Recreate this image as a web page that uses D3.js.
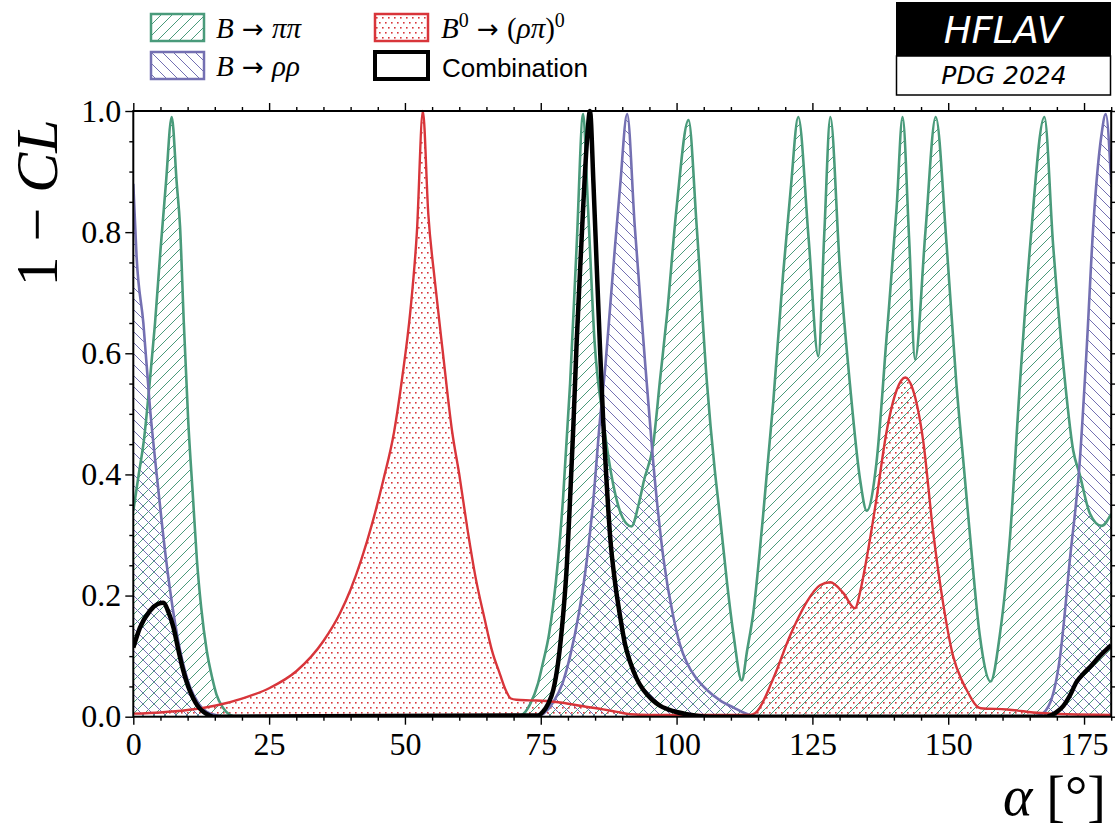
<!DOCTYPE html>
<html><head><meta charset="utf-8">
<script src="https://cdn.jsdelivr.net/npm/d3@7/dist/d3.min.js"></script>
<style>body{margin:0;background:#fff}svg{display:block}</style>
</head><body><svg id="c" width="1115" height="830"></svg>
<script>
// ---- data (alpha in degrees, 1-CL) ----
const pipiAlpha = [0,1,2,3,4,5,6,7.07,8,8.6,9.3,10.1,11,11.7,12.5,13.5,14.5,15.3,16.5,17.8,19,70,71.5,73,74.5,75.4,76.5,77.3,78.2,79.1,80.4,81.6,82.8,83.7,84.9,86.5,88.3,90.1,91.7,93,94,95.7,97,98.2,100,102.2,103.7,105.6,107,108,109.3,110.5,112,113,114.1,115.9,117.8,119.6,121,122.4,124.3,126.1,127.2,128.3,130,131.9,133.8,135,136.8,138.6,140.5,141.6,142.8,143.9,145.8,147.7,149.7,151.5,152.8,154,155.8,157.8,159.5,161.4,163.2,165.1,167.7,169.3,171.2,173,174.2,176.1,178.2,180];
const pipiCL    = [0.34,0.40,0.46,0.55,0.65,0.77,0.88,0.99,0.88,0.81,0.65,0.49,0.36,0.26,0.18,0.11,0.065,0.037,0.015,0.003,0,0,0.003,0.02,0.055,0.089,0.135,0.185,0.26,0.36,0.55,0.776,0.995,0.84,0.62,0.49,0.385,0.328,0.314,0.35,0.39,0.45,0.56,0.66,0.84,0.985,0.81,0.55,0.41,0.33,0.22,0.134,0.06,0.11,0.17,0.33,0.52,0.73,0.87,0.99,0.79,0.595,0.80,0.99,0.75,0.55,0.39,0.34,0.42,0.62,0.84,0.99,0.79,0.59,0.80,0.99,0.78,0.55,0.42,0.30,0.135,0.058,0.135,0.30,0.55,0.78,0.99,0.78,0.58,0.44,0.40,0.335,0.315,0.335];

const rhorhoAlpha = [0,0.6,1.85,3.07,4.3,5.5,6.75,8.6,10.4,12,13.5,15.5,17.2,74,75.5,77.3,79,80.4,82,83.5,84.7,85.9,86.9,87.8,88.7,89.6,90.9,92.3,93.9,95.7,97.6,99.4,100.6,101.9,103.5,105.6,108,110.5,112.5,114.2,115,165,166.9,168.8,170.6,172.4,174.2,175.5,176.7,178.2,179,180];
const rhorhoCL    = [0.88,0.76,0.65,0.51,0.40,0.30,0.21,0.11,0.05,0.022,0.008,0.002,0,0,0.005,0.024,0.055,0.10,0.17,0.26,0.36,0.49,0.58,0.68,0.78,0.875,0.995,0.81,0.62,0.42,0.26,0.165,0.12,0.089,0.065,0.044,0.027,0.015,0.006,0.001,0,0,0.003,0.024,0.10,0.26,0.42,0.61,0.81,0.96,0.995,0.88];

const rhopiAlpha = [0,5,10,15,20,25,30,35,38,40,42,44,46,48,49.5,51,52.2,53.3,54.3,55.5,57,58.7,60,61.5,63,64.7,66,67.5,68.5,69.5,70.5,73,76,79,82.2,86.5,89,91.5,95,113.5,114.5,117.8,120.9,122.5,124,126.4,128.3,130.7,132.8,134,135,136.8,138.6,140.5,142.1,143.5,145.4,147.2,149.1,150.9,152.5,153.4,155.2,156,160.8,166.9,172,180];
const rhopiCL    = [0.005,0.007,0.011,0.018,0.03,0.047,0.075,0.125,0.17,0.21,0.26,0.32,0.39,0.47,0.56,0.67,0.8,1.0,0.83,0.72,0.6,0.47,0.4,0.31,0.23,0.16,0.11,0.07,0.045,0.03,0.028,0.027,0.026,0.023,0.018,0.012,0.008,0.004,0.003,0.003,0.006,0.063,0.134,0.165,0.19,0.217,0.222,0.204,0.179,0.215,0.262,0.36,0.468,0.539,0.56,0.54,0.455,0.307,0.185,0.10,0.06,0.044,0.018,0.014,0.012,0.006,0.004,0.003];

const combAlpha = [0,1.23,3.07,4.5,5.5,6.5,7.4,8.3,9.2,10.1,11,12,12.9,13.8,14.7,74.5,75.4,76.3,77.3,78.2,79.1,79.8,80.4,81,81.6,82.2,82.8,83.5,84.06,84.7,85.3,85.9,86.5,87.1,87.8,88.7,89.6,90.5,91.5,92.7,93.9,95.5,97,99.5,101.9,104,106,168,168.8,170,171.2,172.4,173.6,175,176.1,177.9,180];
const combCL    = [0.114,0.147,0.175,0.186,0.188,0.172,0.147,0.11,0.076,0.05,0.031,0.016,0.008,0.003,0,0.002,0.008,0.02,0.044,0.09,0.166,0.25,0.36,0.48,0.616,0.73,0.84,0.95,1.0,0.88,0.744,0.61,0.487,0.39,0.294,0.22,0.166,0.12,0.089,0.062,0.044,0.028,0.018,0.009,0.004,0.001,0,0,0.002,0.008,0.018,0.035,0.057,0.072,0.082,0.10,0.118];

const xTickValues = [0,25,50,75,100,125,150,175];
const yTickValues = [0,0.2,0.4,0.6,0.8,1.0];
const legendLabels = ["B → ππ","B → ρρ","B⁰ → (ρπ)⁰","Combination"];

// ---- layout ----
const svg = d3.select("#c");
const L = 133.3, R = 1111.2, T = 111, B = 716.7;
const x = d3.scaleLinear([0,180],[L,R]);
const y = d3.scaleLinear([0,1],[B,T]);
const GREEN = "#4a9b7b", PURPLE = "#7470b2", RED = "#d8353a";

const defs = svg.append("defs");
function hatch(id, color, dir, w) {
  const p = defs.append("pattern").attr("id",id).attr("patternUnits","userSpaceOnUse")
    .attr("width",w).attr("height",w);
  const d = dir>0
    ? `M0,${w} L${w},0 M${-w/2},${w/2} L${w/2},${-w/2} M${w/2},${1.5*w} L${1.5*w},${w/2}`
    : `M0,0 L${w},${w} M${-w/2},${w/2} L${w/2},${1.5*w} M${w/2},${-w/2} L${1.5*w},${w/2}`;
  p.append("path").attr("d",d).attr("stroke",color).attr("stroke-width",1).attr("fill","none");
}
hatch("hG", GREEN, 1, 11);
hatch("hP", PURPLE, -1, 11);
const pd = defs.append("pattern").attr("id","hR").attr("patternUnits","userSpaceOnUse").attr("width",6).attr("height",10);
pd.append("rect").attr("x",1).attr("y",2).attr("width",1.6).attr("height",1.6).attr("fill",RED);
pd.append("rect").attr("x",4).attr("y",7).attr("width",1.6).attr("height",1.6).attr("fill",RED);
defs.append("clipPath").attr("id","clip").append("rect").attr("x",L).attr("y",T-3).attr("width",R-L).attr("height",B-T+3);

function pts(a, v) { return a.map((d,i)=>[d, v[i]]); }
const series = [
  {a:pipiAlpha, v:pipiCL, c:GREEN, f:"url(#hG)", w:2.6},
  {a:rhorhoAlpha, v:rhorhoCL, c:PURPLE, f:"url(#hP)", w:2.6},
  {a:rhopiAlpha, v:rhopiCL, c:RED, f:"url(#hR)", w:2.4},
];
const area = d3.area().x(d=>x(d[0])).y0(y(0)).y1(d=>y(d[1])).curve(d3.curveMonotoneX);
const line = d3.line().x(d=>x(d[0])).y(d=>y(d[1])).curve(d3.curveMonotoneX);
const g = svg.append("g").attr("clip-path","url(#clip)");
series.forEach(s => g.append("path").attr("d", area(pts(s.a,s.v))).attr("fill", s.f));
series.forEach(s => g.append("path").attr("d", line(pts(s.a,s.v))).attr("fill","none").attr("stroke",s.c).attr("stroke-width",s.w).attr("stroke-linejoin","round"));
g.append("path").attr("d", line(pts(combAlpha,combCL))).attr("fill","none").attr("stroke","#000").attr("stroke-width",4.5).attr("stroke-linejoin","round");

// ---- axes ----
const minorX = d3.range(0,181,5).filter(d=>d%25!==0);
const minorY = d3.range(0,1.001,0.05).filter(d=>Math.abs(d*5-Math.round(d*5))>1e-6);
function styleAxis(sel){ sel.select(".domain").remove(); sel.selectAll(".tick line").attr("stroke","#000").attr("stroke-width",1.4); }
const tickFont = "'Liberation Serif','DejaVu Serif',serif";
svg.append("g").attr("transform",`translate(0,${B})`).call(d3.axisBottom(x).tickValues(xTickValues).tickSize(8).tickPadding(8).tickFormat(d3.format("d"))).call(styleAxis)
  .selectAll("text").attr("font-family",tickFont).attr("font-size",32).attr("fill","#000");
svg.append("g").attr("transform",`translate(0,${B})`).call(d3.axisBottom(x).tickValues(minorX).tickSize(4).tickFormat("")).call(styleAxis);
svg.append("g").attr("transform",`translate(0,${T})`).call(d3.axisTop(x).tickValues(xTickValues).tickSize(8).tickFormat("")).call(styleAxis);
svg.append("g").attr("transform",`translate(0,${T})`).call(d3.axisTop(x).tickValues(minorX).tickSize(4).tickFormat("")).call(styleAxis);
svg.append("g").attr("transform",`translate(${L},0)`).call(d3.axisLeft(y).tickValues(yTickValues).tickSize(8).tickPadding(4).tickFormat(d3.format(".1f"))).call(styleAxis)
  .selectAll("text").attr("font-family",tickFont).attr("font-size",32).attr("fill","#000");
svg.append("g").attr("transform",`translate(${L},0)`).call(d3.axisLeft(y).tickValues(minorY).tickSize(4).tickFormat("")).call(styleAxis);
svg.append("g").attr("transform",`translate(${R},0)`).call(d3.axisRight(y).tickValues(yTickValues).tickSize(8).tickFormat("")).call(styleAxis);
svg.append("g").attr("transform",`translate(${R},0)`).call(d3.axisRight(y).tickValues(minorY).tickSize(4).tickFormat("")).call(styleAxis);
svg.append("rect").attr("x",L).attr("y",T).attr("width",R-L).attr("height",B-T).attr("fill","none").attr("stroke","#000").attr("stroke-width",2);

// axis labels
const ml = svg.append("text").attr("transform","translate(57,203) rotate(-90)").attr("text-anchor","middle")
  .attr("font-family",tickFont).attr("font-size",60);
ml.append("tspan").text("1 − ");
ml.append("tspan").attr("font-style","italic").text("CL");
const xl = svg.append("text").attr("x",1106).attr("y",815).attr("text-anchor","end").attr("font-family",tickFont).attr("font-size",56);
xl.append("tspan").attr("font-style","italic").text("α");
xl.append("tspan").text(" [°]");

// ---- legend ----
const leg = [
  {x:151, y:14, fill:"url(#hG)", stroke:GREEN, sw:2.5},
  {x:151, y:52, fill:"url(#hP)", stroke:PURPLE, sw:2.5},
  {x:375, y:14, fill:"url(#hR)", stroke:RED, sw:2.5},
  {x:375, y:52, fill:"none", stroke:"#000", sw:4},
];
leg.forEach(e => {
  svg.append("rect").attr("x",e.x).attr("y",e.y).attr("width",53).attr("height",27).attr("fill",e.fill).attr("stroke",e.stroke).attr("stroke-width",e.sw);
});
const arrowFont = "'DejaVu Sans',sans-serif";
function mathText(xp, yp, a, b) {
  const t = svg.append("text").attr("x",xp).attr("y",yp).attr("font-family",tickFont).attr("font-size",29);
  t.append("tspan").attr("font-style","italic").text(a);
  t.append("tspan").attr("font-family",arrowFont).attr("font-size",26).text(" → ");
  t.append("tspan").attr("font-style","italic").text(b);
  return t;
}
mathText(216, 38, "B", "ππ");
mathText(216, 76, "B", "ρρ");
const rt = svg.append("text").attr("x",441).attr("y",38).attr("font-family",tickFont).attr("font-size",29);
rt.append("tspan").attr("font-style","italic").text("B");
rt.append("tspan").attr("font-size",20).attr("dy",-11).text("0");
rt.append("tspan").attr("dy",11).attr("font-family",arrowFont).attr("font-size",26).text(" → ");
rt.append("tspan").text("(");
rt.append("tspan").attr("font-style","italic").text("ρπ");
rt.append("tspan").text(")");
rt.append("tspan").attr("font-size",20).attr("dy",-11).text("0");
svg.append("text").attr("x",442).attr("y",77).attr("font-family","'Liberation Sans','DejaVu Sans',sans-serif").attr("font-size",26).text(legendLabels[3]);

// ---- HFLAV logo ----
svg.append("rect").attr("x",896).attr("y",2).attr("width",215).attr("height",54).attr("fill","#000");
svg.append("rect").attr("x",896.5).attr("y",56).attr("width",214).attr("height",39).attr("fill","#fff").attr("stroke","#000").attr("stroke-width",1.5);
svg.append("text").attr("x",1003).attr("y",43).attr("text-anchor","middle").attr("fill","#fff").attr("font-family","'DejaVu Sans',sans-serif").attr("font-style","italic").attr("font-size",37).text("HFLAV");
svg.append("text").attr("x",1004).attr("y",84).attr("text-anchor","middle").attr("fill","#000").attr("font-family","'DejaVu Sans',sans-serif").attr("font-style","italic").attr("font-size",25).text("PDG 2024");
</script></body></html>
